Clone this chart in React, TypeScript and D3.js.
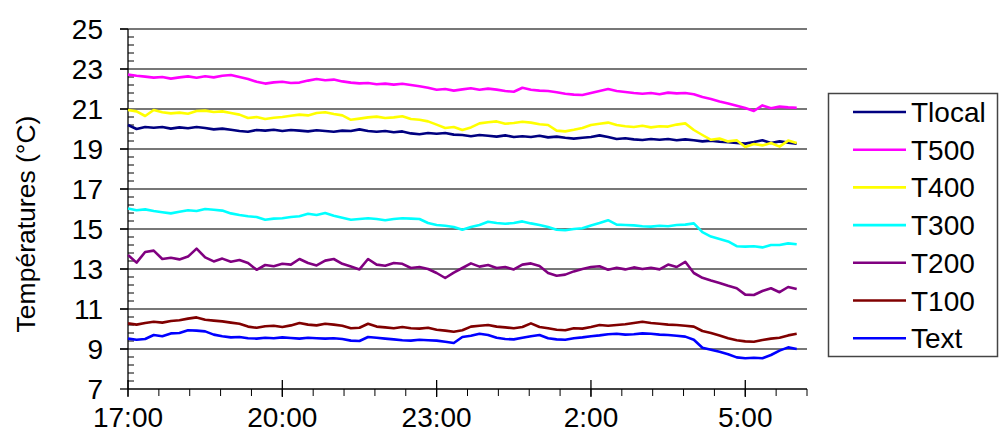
import React, { useEffect, useRef } from 'react';
import * as d3 from 'd3';

// one reading every 10 minutes from 17:00 to 6:00 (hours after 17:00 = index / 6)
const stepMinutes = 10;

const seriesNames = ['Tlocal', 'T500', 'T400', 'T300', 'T200', 'T100', 'Text'];
const seriesColors = ['#000080', '#FF00FF', '#FFFF00', '#00FFFF', '#800080', '#800000', '#0000FF'];

const tlocal = [
  20.2, 20.0, 20.1, 20.06, 20.1, 20.02, 20.08, 20.04, 20.1, 20.05, 19.98, 20.02, 19.96, 19.9, 19.86, 19.95,
  19.92, 19.96, 19.9, 19.95, 19.92, 19.88, 19.94, 19.9, 19.86, 19.92, 19.9, 19.98, 19.9, 19.86, 19.9, 19.84,
  19.88, 19.78, 19.74, 19.8, 19.76, 19.8, 19.72, 19.7, 19.64, 19.7, 19.66, 19.62, 19.68, 19.6, 19.64, 19.6,
  19.66, 19.58, 19.62, 19.56, 19.52, 19.56, 19.6, 19.68, 19.6, 19.5, 19.54, 19.48, 19.45, 19.5, 19.46, 19.5,
  19.44, 19.48, 19.44, 19.38, 19.42, 19.36, 19.34, 19.3, 19.27, 19.35, 19.44, 19.3, 19.38, 19.32, 19.26
];
const t500 = [
  22.72, 22.66, 22.62, 22.57, 22.6, 22.52, 22.58, 22.63, 22.56, 22.64, 22.58, 22.66, 22.7, 22.6, 22.5, 22.36,
  22.27, 22.33, 22.36, 22.3, 22.32, 22.42, 22.5, 22.44, 22.47, 22.38, 22.32, 22.28, 22.3, 22.24, 22.27, 22.22,
  22.26, 22.2, 22.14, 22.06, 21.96, 22.0, 21.92, 21.98, 22.04, 21.96, 22.02, 21.97, 21.9, 21.86, 22.06, 21.96,
  21.92, 21.9, 21.84, 21.76, 21.72, 21.7, 21.8, 21.9, 22.0, 21.9, 21.85, 21.8, 21.76, 21.8, 21.74, 21.82,
  21.78, 21.8, 21.74, 21.6, 21.5, 21.38, 21.28, 21.16, 21.05, 20.9, 21.18, 21.04, 21.12, 21.08, 21.06
];
const t400 = [
  20.95, 20.88, 20.65, 20.95, 20.84, 20.78, 20.82, 20.76, 20.9, 20.92, 20.85, 20.88, 20.8, 20.72, 20.55, 20.6,
  20.5, 20.56, 20.6, 20.66, 20.72, 20.68, 20.8, 20.84, 20.75, 20.68, 20.46, 20.52, 20.58, 20.62, 20.55, 20.58,
  20.64, 20.5, 20.46, 20.38, 20.22, 20.05, 20.1, 19.95, 20.08, 20.28, 20.34, 20.38, 20.26, 20.3, 20.36, 20.32,
  20.24, 20.2, 19.92, 19.88, 19.96, 20.05, 20.2, 20.26, 20.32, 20.2, 20.14, 20.1, 20.16, 20.08, 20.14, 20.12,
  20.22, 20.28, 19.95, 19.7, 19.46, 19.52, 19.38, 19.44, 19.1, 19.25, 19.18, 19.3, 19.12, 19.42, 19.3
];
const t300 = [
  16.03, 15.94, 15.98, 15.9, 15.84, 15.78, 15.86, 15.94, 15.9, 16.0, 15.96, 15.92, 15.78, 15.7, 15.64, 15.6,
  15.46, 15.52, 15.54, 15.6, 15.64, 15.76, 15.7, 15.8, 15.66, 15.56, 15.46, 15.5, 15.54, 15.5, 15.44, 15.5,
  15.54, 15.52, 15.5, 15.3, 15.2, 15.16, 15.1, 14.96, 15.1, 15.2, 15.36, 15.3, 15.26, 15.3, 15.38, 15.28,
  15.2, 15.1, 14.96, 14.94, 15.0, 15.04, 15.18, 15.3, 15.44, 15.22, 15.2, 15.18, 15.14, 15.12, 15.16, 15.14,
  15.2, 15.22, 15.28, 14.84, 14.62, 14.5, 14.38, 14.14, 14.12, 14.14, 14.08, 14.2, 14.2, 14.28, 14.24
];
const t200 = [
  13.7, 13.32, 13.85, 13.92, 13.5, 13.56, 13.48, 13.62, 14.02, 13.58, 13.38, 13.52, 13.36, 13.45, 13.3, 12.96,
  13.2, 13.14, 13.26, 13.22, 13.5, 13.3, 13.18, 13.42, 13.5, 13.26, 13.12, 12.98, 13.5, 13.22, 13.16, 13.3,
  13.26, 13.05, 13.1, 13.0, 12.8, 12.55, 12.82, 13.05, 13.28, 13.12, 13.2, 13.05, 13.1, 12.98, 13.22, 13.28,
  13.15, 12.8, 12.66, 12.72, 12.88, 13.0, 13.1, 13.14, 12.96, 13.06, 12.98, 13.08, 13.0, 13.06, 12.98, 13.22,
  13.1, 13.36, 12.8, 12.56, 12.42, 12.3, 12.16, 12.04, 11.72, 11.7, 11.9, 12.04, 11.84, 12.1, 12.0
];
const t100 = [
  10.28, 10.22, 10.3, 10.36, 10.32, 10.4, 10.44, 10.52, 10.58, 10.46, 10.42, 10.38, 10.32, 10.26, 10.12, 10.06,
  10.14, 10.16, 10.1, 10.18, 10.3, 10.22, 10.18, 10.26, 10.22, 10.16, 10.04, 10.06, 10.26, 10.12, 10.08, 10.04,
  10.1, 10.04, 10.02, 10.06, 9.96, 9.92, 9.86, 9.94, 10.12, 10.16, 10.2, 10.12, 10.08, 10.04, 10.1, 10.28,
  10.1, 10.04, 9.96, 9.94, 10.04, 10.02, 10.1, 10.2, 10.16, 10.2, 10.24, 10.3, 10.36, 10.3, 10.26, 10.22,
  10.2, 10.16, 10.12, 9.9, 9.8, 9.68, 9.54, 9.44, 9.38, 9.36, 9.45, 9.52, 9.56, 9.68, 9.76
];
const text = [
  9.52, 9.46, 9.5, 9.7, 9.64, 9.78, 9.8, 9.94, 9.92, 9.88, 9.72, 9.64, 9.58, 9.6, 9.54, 9.52,
  9.56, 9.54, 9.58, 9.55, 9.52, 9.56, 9.54, 9.52, 9.54, 9.5, 9.42, 9.4, 9.6, 9.56, 9.52, 9.48,
  9.44, 9.42, 9.46, 9.44, 9.42, 9.36, 9.3, 9.6, 9.66, 9.76, 9.7, 9.56, 9.5, 9.48, 9.56, 9.64,
  9.7, 9.54, 9.48, 9.46, 9.54, 9.58, 9.64, 9.68, 9.74, 9.76, 9.72, 9.74, 9.78, 9.76, 9.72, 9.7,
  9.66, 9.62, 9.46, 9.06, 8.96, 8.86, 8.74, 8.58, 8.54, 8.56, 8.54, 8.7, 8.92, 9.08, 9.0
];
const seriesValues = [tlocal, t500, t400, t300, t200, t100, text];

const xTickHours = [0, 3, 6, 9, 12];
const xTickLabels = ['17:00', '20:00', '23:00', '2:00', '5:00'];
const yTicks = [7, 9, 11, 13, 15, 17, 19, 21, 23, 25];

const FONT = 'Arial, "Liberation Sans", sans-serif';

export default function App() {
  const ref = useRef<SVGSVGElement>(null);

  useEffect(() => {
    const svg = d3.select(ref.current);
    svg.selectAll('*').remove();

    const x = d3.scaleLinear().domain([0, 13.2]).range([128, 807]);
    const y = d3.scaleLinear().domain([7, 25]).range([389, 29]);

    // gridlines
    svg.append('g')
      .selectAll('line')
      .data(yTicks.slice(1))
      .enter()
      .append('line')
      .attr('x1', 120).attr('x2', x(13.2))
      .attr('y1', d => y(d)).attr('y2', d => y(d))
      .attr('stroke', '#4a4a4a')
      .attr('stroke-width', 1.5);

    // y axis
    const yAxis = svg.append('g');
    yAxis.append('line')
      .attr('x1', 128).attr('x2', 128).attr('y1', y(25)).attr('y2', y(7))
      .attr('stroke', '#000').attr('stroke-width', 1.3);
    yAxis.selectAll('.major')
      .data(yTicks)
      .enter()
      .append('line')
      .attr('x1', 120).attr('x2', 128)
      .attr('y1', d => y(d)).attr('y2', d => y(d))
      .attr('stroke', '#000').attr('stroke-width', 1.3);
    yAxis.selectAll('.minor')
      .data(d3.range(7, 25.01, 0.4).filter(v => Math.abs((v - 7) / 2 - Math.round((v - 7) / 2)) > 0.01))
      .enter()
      .append('line')
      .attr('x1', 128).attr('x2', 134)
      .attr('y1', d => y(d)).attr('y2', d => y(d))
      .attr('stroke', '#000').attr('stroke-width', 1);
    yAxis.selectAll('text')
      .data(yTicks)
      .enter()
      .append('text')
      .attr('x', 103)
      .attr('y', d => y(d) + 10)
      .attr('text-anchor', 'end')
      .attr('font-family', FONT)
      .attr('font-size', 28)
      .text(d => d);

    svg.append('text')
      .attr('transform', `translate(35, 224) rotate(-90)`)
      .attr('text-anchor', 'middle')
      .attr('font-family', FONT)
      .attr('font-size', 26.5)
      .text('Températures (°C)');

    // x axis
    const xAxis = svg.append('g');
    xAxis.append('line')
      .attr('x1', x(0)).attr('x2', x(13.2)).attr('y1', 389).attr('y2', 389)
      .attr('stroke', '#000').attr('stroke-width', 1.3);
    xAxis.selectAll('.minor')
      .data(d3.range(0, 13.21, 0.6))
      .enter()
      .append('line')
      .attr('x1', d => x(d)).attr('x2', d => x(d))
      .attr('y1', 389).attr('y2', 396)
      .attr('stroke', '#000').attr('stroke-width', 1);
    xAxis.selectAll('.major')
      .data(xTickHours)
      .enter()
      .append('line')
      .attr('x1', d => x(d)).attr('x2', d => x(d))
      .attr('y1', 380).attr('y2', 397)
      .attr('stroke', '#000').attr('stroke-width', 1.3);
    xAxis.selectAll('text')
      .data(xTickHours)
      .enter()
      .append('text')
      .attr('x', d => x(d))
      .attr('y', 427)
      .attr('text-anchor', 'middle')
      .attr('font-family', FONT)
      .attr('font-size', 28)
      .text((d, i) => xTickLabels[i]);

    // series
    const line = d3.line<number>()
      .x((d, i) => x((i * stepMinutes) / 60))
      .y(d => y(d));
    seriesValues.forEach((vals, k) => {
      svg.append('path')
        .datum(vals)
        .attr('d', line)
        .attr('fill', 'none')
        .attr('stroke', seriesColors[k])
        .attr('stroke-width', 2.6)
        .attr('stroke-linejoin', 'round');
    });

    // legend
    const lg = svg.append('g');
    lg.append('rect')
      .attr('x', 828.5).attr('y', 93.5).attr('width', 169).attr('height', 263)
      .attr('fill', '#fff').attr('stroke', '#444').attr('stroke-width', 1.5);
    seriesNames.forEach((name, k) => {
      const cy = 112 + k * 37.7;
      lg.append('line')
        .attr('x1', 853).attr('x2', 906).attr('y1', cy).attr('y2', cy)
        .attr('stroke', seriesColors[k]).attr('stroke-width', 2.6);
      lg.append('text')
        .attr('x', 911).attr('y', cy + 10)
        .attr('font-family', FONT)
        .attr('font-size', 28)
        .text(name);
    });
  }, []);

  return (
    <svg
      ref={ref}
      width={999}
      height={435}
      style={{ position: 'absolute', left: 0, top: 0, background: '#fff' }}
    />
  );
}
